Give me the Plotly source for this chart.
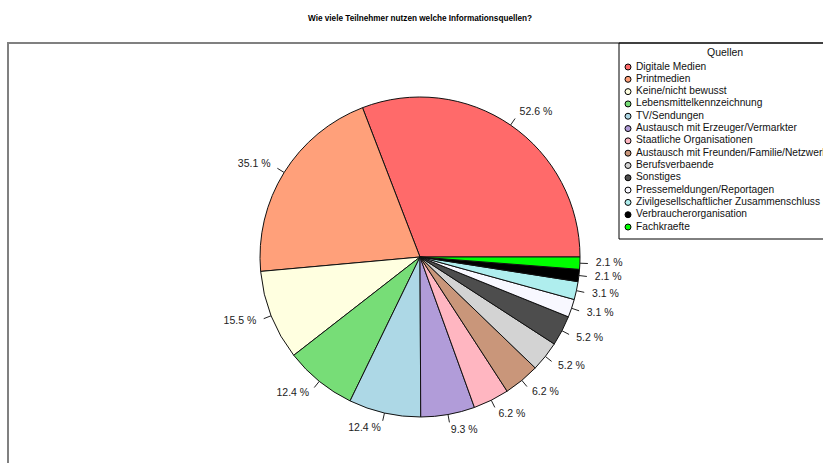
import math
import plotly.graph_objects as go

categories = [
    "Digitale Medien", "Printmedien", "Keine/nicht bewusst",
    "Lebensmittelkennzeichnung", "TV/Sendungen",
    "Austausch mit Erzeuger/Vermarkter", "Staatliche Organisationen",
    "Austausch mit Freunden/Familie/Netzwerk", "Berufsverbaende",
    "Sonstiges", "Pressemeldungen/Reportagen",
    "Zivilgesellschaftlicher Zusammenschluss", "Verbraucherorganisation",
    "Fachkraefte",
]
percent = [52.6, 35.1, 15.5, 12.4, 12.4, 9.3, 6.2, 6.2, 5.2, 5.2, 3.1, 3.1, 2.1, 2.1]
colors = ["#FF6A6A", "#FFA07A", "#FFFFE0", "#77DD77", "#ADD8E6", "#B19CD9",
          "#FFB6C1", "#C9967A", "#D3D3D3", "#4D4D4D", "#F8F8FF", "#AFEEEE",
          "#000000", "#00FF00"]
title = "Wie viele Teilnehmer nutzen welche Informationsquellen?"
legend_title = "Quellen"

W, H = 823, 463
FONT = "Liberation Sans, Arial"
total = sum(percent)
widths = [p / total * 360 for p in percent]
mids = []
acc = 0.0
for w in widths:
    mids.append(acc + w / 2)
    acc += w
labels = [f"{p:.1f} %" for p in percent]

fig = go.Figure()

# pie wedges
fig.add_trace(go.Barpolar(
    r=[1] * len(percent), theta=mids, width=widths,
    marker=dict(color=colors, line=dict(color="#111111", width=1)),
    hoverinfo="skip", showlegend=False,
))

# tick marks
tr, tt = [], []
for m in mids:
    tr += [1.0, 1.05, None]
    tt += [m, m, None]
fig.add_trace(go.Scatterpolar(
    r=tr, theta=tt, mode="lines", line=dict(color="#222222", width=1),
    hoverinfo="skip", showlegend=False, connectgaps=False,
))

# labels
pos = ["middle right" if math.cos(math.radians(m)) >= 0 else "middle left" for m in mids]
fig.add_trace(go.Scatterpolar(
    r=[1.1] * len(mids), theta=mids, mode="text", text=labels,
    textposition=pos, textfont=dict(family=FONT, size=10.5, color="#222222"),
    hoverinfo="skip", showlegend=False, cliponaxis=False,
))

# pie centre and polar radius in pixels
cx, cy, R = 420, 257, 192
fig.update_layout(
    polar=dict(
        domain=dict(x=[(cx - R) / W, (cx + R) / W], y=[1 - (cy + R) / H, 1 - (cy - R) / H]),
        radialaxis=dict(range=[0, 1.2], visible=False),
        angularaxis=dict(direction="counterclockwise", rotation=0, visible=False),
        bgcolor="rgba(0,0,0,0)",
        hole=0,
    ),
    bargap=0,
)

# manual legend on an overlay axis that maps pixels
n = len(categories)
ly = [67 + 12.31 * i for i in range(n)]
fig.add_trace(go.Scatter(
    x=[628] * n, y=ly, mode="markers",
    marker=dict(color=colors, size=6, line=dict(color="#000000", width=1)),
    hoverinfo="skip", showlegend=False, cliponaxis=False,
))
fig.add_trace(go.Scatter(
    x=[636] * n, y=ly, mode="text", text=categories,
    textposition="middle right",
    textfont=dict(family=FONT, size=10.2, color="#111111"),
    hoverinfo="skip", showlegend=False, cliponaxis=False,
))
fig.update_layout(
    xaxis=dict(domain=[0, 1], range=[0, W], visible=False, fixedrange=True),
    yaxis=dict(domain=[0, 1], range=[H, 0], visible=False, fixedrange=True),
)

fig.add_annotation(x=725, y=52, xref="x", yref="y", text=legend_title, showarrow=False,
                   font=dict(family=FONT, size=10.5, color="#111111"))
fig.add_annotation(x=420, y=18, xref="x", yref="y", text=f"<b>{title}</b>", showarrow=False,
                   font=dict(family=FONT, size=8.2, color="#000000"))

# plot frame and legend box
fig.add_shape(type="rect", xref="x", yref="y", x0=8, y0=43, x1=W + 20, y1=H + 20,
              line=dict(color="#808080", width=2), layer="below")
fig.add_shape(type="rect", xref="x", yref="y", x0=619, y0=43, x1=W + 20, y1=239,
              line=dict(color="#000000", width=1), layer="below")

fig.update_layout(
    width=W, height=H, margin=dict(l=0, r=0, t=0, b=0),
    paper_bgcolor="white", plot_bgcolor="rgba(0,0,0,0)",
    showlegend=False,
)

fig.write_html("out.html", config={"displayModeBar": False},
               post_script="document.body.style.margin='0px';")
